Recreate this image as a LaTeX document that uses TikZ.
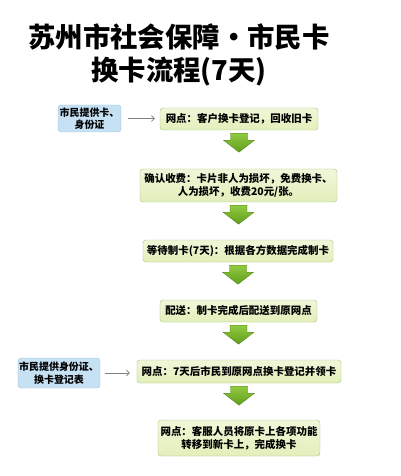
\documentclass[tikz,border=0pt]{standalone}
\usepackage{fontspec}
\setmainfont{Noto Sans CJK SC}
\usepackage{tikz}
\usetikzlibrary{calc, arrows.meta}
\definecolor{stepfill}{RGB}{226, 239, 186}
\definecolor{steptop}{RGB}{240, 247, 218}
\definecolor{stepline}{RGB}{170, 192, 128}
\definecolor{userfill}{RGB}{198, 224, 244}
\definecolor{userline}{RGB}{160, 196, 226}
\definecolor{arrowtop}{RGB}{146, 202, 66}
\definecolor{arrowbot}{RGB}{96, 158, 28}
\definecolor{linkgray}{gray}{0.5}

\begin{document}
\begin{tikzpicture}[x=1bp, y=-1bp,
		stepbox/.style={draw=stepline, top color=steptop, bottom color=stepfill, rounded corners=3bp,
			inner sep=0pt, align=center, font=\fontsize{10.5}{13}\selectfont\bfseries},
		userbox/.style={draw=userline, fill=userfill, rounded corners=3bp,
			inner sep=0pt, align=center, font=\fontsize{10}{12.5}\selectfont\bfseries},
		link/.style={linkgray, line width=0.6bp, -{Straight Barb[length=3bp, width=6bp]}},
		bigarrow/.style={top color=arrowtop, bottom color=arrowbot, draw=arrowbot!80!black, line width=0.3bp}]
	\useasboundingbox (0,0) rectangle (400,476);

	% title
	\node[font=\fontsize{27.5}{34}\selectfont\bfseries] (title1) at (179,37) {苏州市社会保障·市民卡};
	\node[font=\fontsize{27.5}{34}\selectfont\bfseries] (title2) at (179,72) {换卡流程(7天)};

	% citizen side
	\node[userbox, minimum width=63bp, minimum height=27bp] (p1) at (89.5,118.5) {市民提供卡、\\身份证};
	\node[userbox, minimum width=82bp, minimum height=30bp] (p2) at (59,373) {市民提供身份证、\\换卡登记表};

	% steps
	\node[stepbox, minimum width=158bp, minimum height=22bp] (s1) at (239,119) {网点：客户换卡登记，回收旧卡};
	\node[stepbox, minimum width=197bp, minimum height=33bp] (s2) at (238.5,185.5) {确认收费：卡片非人为损坏，免费换卡、\\人为损坏，收费20元/张。};
	\node[stepbox, minimum width=190bp, minimum height=22bp] (s3) at (238,251) {等待制卡(7天)：根据各方数据完成制卡};
	\node[stepbox, minimum width=157bp, minimum height=22bp] (s4) at (238.5,311) {配送：制卡完成后配送到原网点};
	\node[stepbox, minimum width=204bp, minimum height=23bp] (s5) at (239,371.5) {网点：7天后市民到原网点换卡登记并领卡};
	\node[stepbox, minimum width=162bp, minimum height=36bp] (s6) at (239,438) {网点：客服人员将原卡上各项功能\\转移到新卡上，完成换卡};

	% hand-over links
	\draw[link, shorten <=7bp, shorten >=5bp] (p1) -- (p1 -| s1.west);
	\draw[link, shorten <=5bp, shorten >=7bp] (p2) -- (p2 -| s5.west);

	% green arrows
	\draw[bigarrow] ($(s1.south)+(-8.5,3)$) -- ++(17,0) -- ++(0,7) -- ++(7,0) -- ++(-15.5,12) -- ++(-15.5,-12) -- ++(7,0) -- cycle;
	\draw[bigarrow] ($(s2.south)+(-8.5,3)$) -- ++(17,0) -- ++(0,7) -- ++(7,0) -- ++(-15.5,12) -- ++(-15.5,-12) -- ++(7,0) -- cycle;
	\draw[bigarrow] ($(s3.south)+(-8.5,3)$) -- ++(17,0) -- ++(0,7) -- ++(7,0) -- ++(-15.5,12) -- ++(-15.5,-12) -- ++(7,0) -- cycle;
	\draw[bigarrow] ($(s4.south)+(-8.5,3)$) -- ++(17,0) -- ++(0,7) -- ++(7,0) -- ++(-15.5,12) -- ++(-15.5,-12) -- ++(7,0) -- cycle;
	\draw[bigarrow] ($(s5.south)+(-8.5,3)$) -- ++(17,0) -- ++(0,7) -- ++(7,0) -- ++(-15.5,12) -- ++(-15.5,-12) -- ++(7,0) -- cycle;

\end{tikzpicture}
\end{document}
